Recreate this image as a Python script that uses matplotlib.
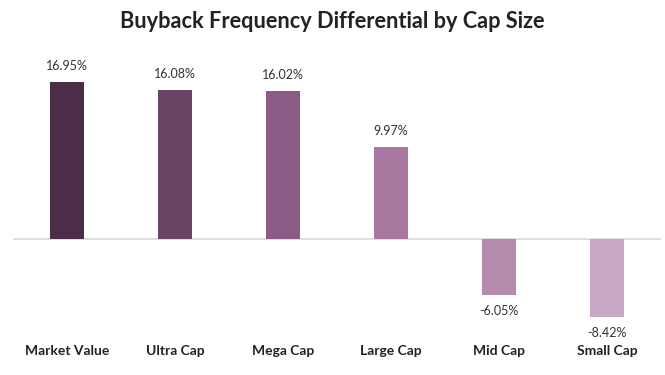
import matplotlib.pyplot as plt

categories = ['Market Value', 'Ultra Cap', 'Mega Cap', 'Large Cap', 'Mid Cap', 'Small Cap']
values = [16.95, 16.08, 16.02, 9.97, -6.05, -8.42]
colors = ['#4B2D48', '#6A4465', '#8B5A85', '#A878A0', '#B68AAD', '#C9A9C6']

plt.rcParams['font.family'] = ['Lato', 'DejaVu Sans']

fig = plt.figure(figsize=(6.65, 3.75), dpi=100)
ax = fig.add_axes([13 / 665, 1 - 330 / 375, 648 / 665, 270 / 375])

x = range(len(categories))
bars = ax.bar(x, values, width=0.31, color=colors, zorder=2)
ax.axhline(0, color='#D9D9D9', linewidth=1.2, zorder=1)

for xi, v in zip(x, values):
    if v >= 0:
        ax.annotate(f'{v:.2f}%', (xi, v), xytext=(0, 7), textcoords='offset points',
                    ha='center', va='bottom', fontsize=9, color='#333333')
    else:
        ax.annotate(f'{v:.2f}%', (xi, v), xytext=(0, -7), textcoords='offset points',
                    ha='center', va='top', fontsize=9, color='#333333')

ax.set_xlim(-0.5, len(categories) - 0.5)
ax.set_ylim(-9.83, 19.33)
ax.set_xticks(list(x))
ax.set_xticklabels(categories, fontsize=10, fontweight='bold', color='#222222')
ax.tick_params(axis='x', length=0, pad=11)
ax.set_yticks([])
for s in ax.spines.values():
    s.set_visible(False)

fig.suptitle('Buyback Frequency Differential by Cap Size', y=1 - 22 / 375, va='center',
             fontsize=15.7, fontweight='bold', color='#222222')

fig.savefig('out.png', dpi=100)
